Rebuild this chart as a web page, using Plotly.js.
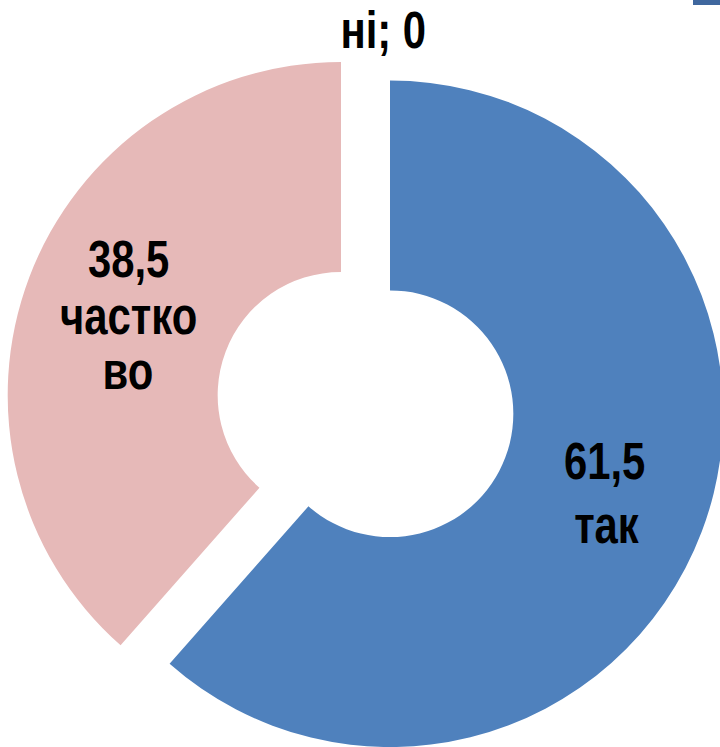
<!DOCTYPE html>
<html>
<head>
<meta charset="utf-8">
<script src="https://cdn.plot.ly/plotly-3.0.1.min.js"></script>
<style>
html,body{margin:0;padding:0;overflow:hidden;background:#fff;width:720px;height:747px;}
#chart{width:730px;height:770px;}
</style>
</head>
<body>
<div id="chart"></div>
<script>
const categories = ["так", "частково", "ні"];
const values = [61.5, 38.5, 0];
const valueLabels = ["61,5", "38,5", "0"];
const colors = ["#4F81BD", "#E6B9B8", "#9BBB59"];
const pulls = [0.0786, 0.0786, 0];

const W = 730, H = 770;
const FONT = "'Liberation Sans', Arial, sans-serif";
const NARROW = 0.82;

function ann(text, px, py, size) {
  return {
    text: text, xref: 'paper', yref: 'paper',
    x: px / W, y: 1 - py / H, xanchor: 'center', yanchor: 'middle',
    showarrow: false,
    font: {family: FONT, size: size, color: '#000', weight: 'bold'}
  };
}

const trace = {
  type: 'pie',
  labels: categories,
  values: values,
  text: valueLabels,
  sort: false,
  direction: 'clockwise',
  rotation: 0,
  hole: 0.37,
  pull: pulls,
  textinfo: 'none',
  hoverinfo: 'label+value',
  marker: {colors: colors, line: {width: 0}},
  domain: {x: [6 / W, 725 / W], y: [6 / H, 725 / H]},
  showlegend: false
};

const layout = {
  width: W, height: H,
  margin: {l: 0, r: 0, t: 0, b: 0},
  paper_bgcolor: '#fff',
  showlegend: false,
  annotations: [
    ann(categories[2].slice(0,2) + '; ' + valueLabels[2], 384, 31, 51),
    ann(valueLabels[1], 128, 259, 51),
    ann(categories[1].slice(0, 6), 128, 316, 51),
    ann(categories[1].slice(6), 128, 371, 51),
    ann(valueLabels[0], 604, 461, 51),
    ann(categories[0], 606, 525, 51)
  ],
  shapes: [
    {type: 'rect', xref: 'paper', yref: 'paper', x0: 693 / W, x1: 730 / W, y0: 1 - 5 / H, y1: 1,
     fillcolor: '#3F679E', line: {width: 0}}
  ]
};

Plotly.newPlot('chart', [trace], layout, {displayModeBar: false, staticPlot: true}).then(function(gd) {
  gd.querySelectorAll('text.annotation-text').forEach(function(t) {
    const bb = t.getBBox();
    const cx = bb.x + bb.width / 2;
    t.setAttribute('transform', 'translate(' + cx + ',0) scale(' + NARROW + ',1) translate(' + (-cx) + ',0)');
  });
});
</script>
</body>
</html>
